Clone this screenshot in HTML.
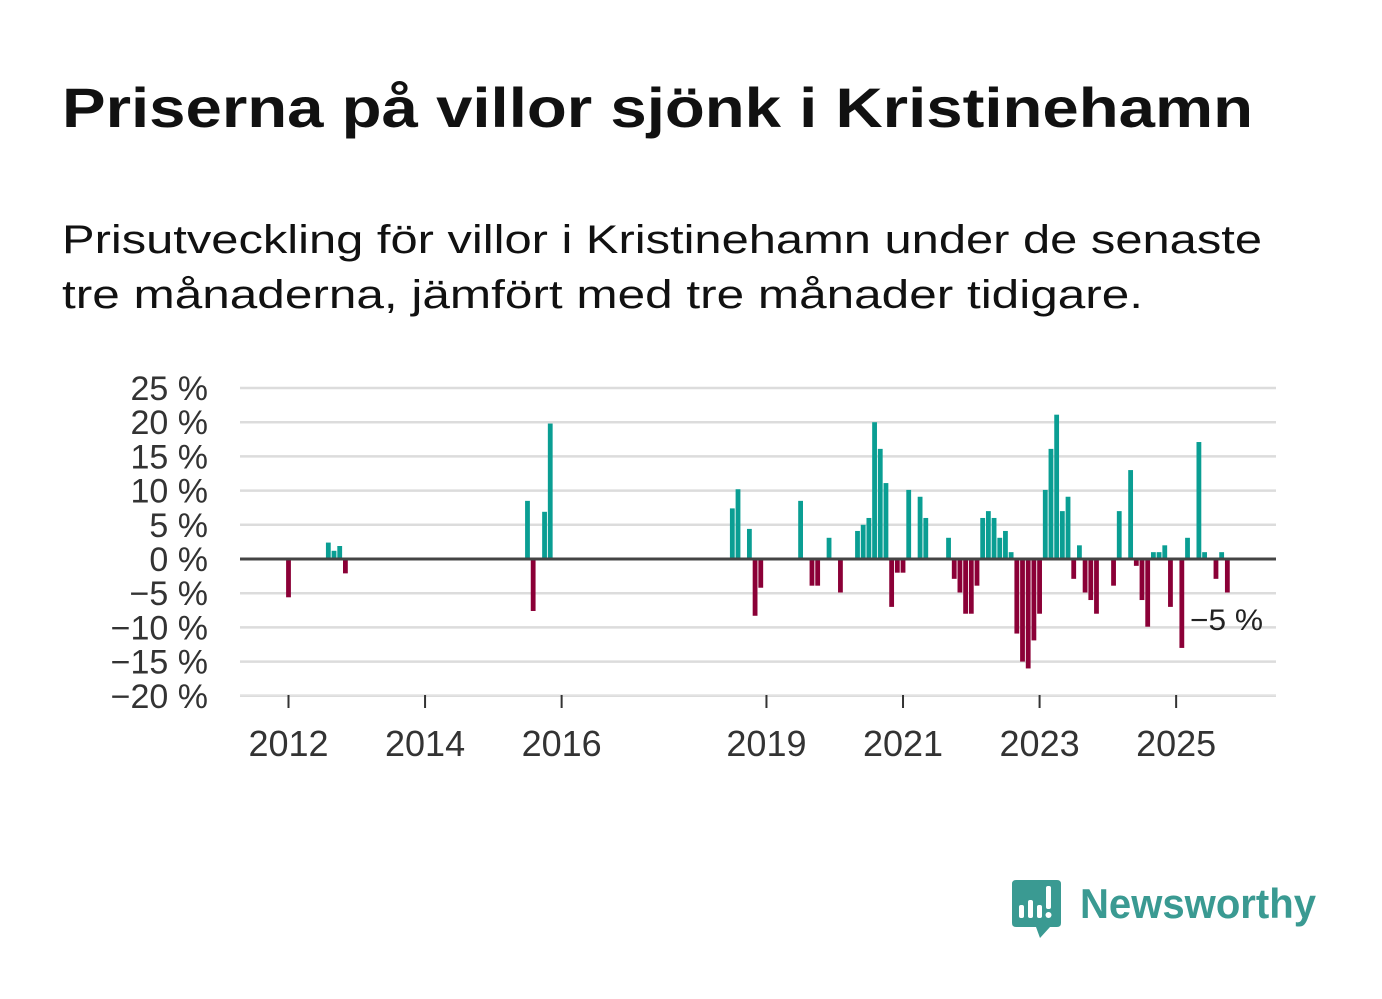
<!DOCTYPE html>
<html><head><meta charset="utf-8"><style>
html,body{margin:0;padding:0;background:#fff;}
svg{display:block;font-family:"Liberation Sans",sans-serif;}
</style></head><body>
<svg id="chart" width="1382" height="999" viewBox="0 0 1382 999">
<text x="62" y="127" font-size="56" font-weight="bold" fill="#111" textLength="1191" lengthAdjust="spacingAndGlyphs">Priserna på villor sjönk i Kristinehamn</text>
<text x="62" y="253" font-size="40" fill="#111" textLength="1200" lengthAdjust="spacingAndGlyphs">Prisutveckling för villor i Kristinehamn under de senaste</text>
<text x="62" y="308" font-size="40" fill="#111" textLength="1081" lengthAdjust="spacingAndGlyphs">tre månaderna, jämfört med tre månader tidigare.</text>
<g id="grid"></g>
<g id="bars"></g>
<g id="axes"></g>
<text x="1190" y="630" font-size="30" fill="#222" textLength="73" lengthAdjust="spacingAndGlyphs">−5 %</text>
<g>
<path d="M1016 880 H1057 Q1061 880 1061 884 V923 Q1061 927 1057 927 H1050 L1040 938 L1036 927 H1016 Q1012 927 1012 923 V884 Q1012 880 1016 880 Z" fill="#3a9a92"/>
<rect x="1019" y="905" width="5" height="13" rx="2" fill="#fff"/>
<rect x="1028" y="900" width="5" height="18" rx="2" fill="#fff"/>
<rect x="1037" y="905" width="5" height="13" rx="2" fill="#fff"/>
<rect x="1046" y="886" width="5" height="23" rx="2" fill="#fff"/>
<circle cx="1048.5" cy="915" r="3" fill="#fff"/>
<text x="1080" y="918" font-size="42" font-weight="bold" fill="#3a9a92" textLength="236" lengthAdjust="spacingAndGlyphs">Newsworthy</text>
</g>
</svg>
<script>
// months since Jan 2012
const months = [0,7,8,9,10,42,43,45,46,78,79,81,82,83,90,92,93,95,97,100,101,102,103,104,105,106,107,108,109,111,112,116,117,118,119,120,121,122,123,124,125,126,127,128,129,130,131,132,133,134,135,136,137,138,139,140,141,142,145,146,148,149,150,151,152,153,154,155,157,158,160,161,163,164,165];
const values = [-5.6,2.4,1.2,1.9,-2.1,8.5,-7.6,6.9,19.8,7.4,10.2,4.4,-8.3,-4.2,8.5,-3.9,-3.9,3.1,-4.9,4.1,5.0,6.0,20.0,16.1,11.1,-7.0,-2.0,-2.0,10.1,9.1,6.0,3.1,-2.9,-4.9,-8.0,-8.0,-3.9,6.0,7.0,6.0,3.1,4.1,1.0,-10.9,-15.0,-16.0,-11.9,-8.0,10.1,16.1,21.1,7.0,9.1,-2.9,2.0,-4.9,-6.0,-8.0,-3.9,7.0,13.0,-1.0,-6.0,-9.9,1.0,1.0,2.0,-7.0,-13.0,3.1,17.1,1.0,-2.9,1.0,-4.9];
const yTicks = [25,20,15,10,5,0,-5,-10,-15,-20];
const yTickLabels = ["25 %","20 %","15 %","10 %","5 %","0 %","−5 %","−10 %","−15 %","−20 %"];
const xTickYears = [2012,2014,2016,2019,2021,2023,2025];

const NS="http://www.w3.org/2000/svg";
function yScale(v){return 559 - v*6.84;}
function xScale(m){return 288.5 + m*5.69;}
function mk(tag,attrs,parent){const e=document.createElementNS(NS,tag);for(const k in attrs)e.setAttribute(k,attrs[k]);parent.appendChild(e);return e;}
const grid=document.getElementById('grid'),bars=document.getElementById('bars'),axes=document.getElementById('axes');
yTicks.forEach((t,i)=>{
  if(t!==0){const l=mk('line',{x1:240,x2:1276,y1:yScale(t),y2:yScale(t),stroke:'#dcdcdc','stroke-width':2.5},grid);
  
  }
  const tx=mk('text',{x:208,y:yScale(t)+12,'font-size':34,fill:'#333','text-anchor':'end'},axes);
  tx.textContent=yTickLabels[i];
  
  
});
const base=mk('line',{x1:240,x2:1276,y1:695,y2:695,stroke:'#e3e3e3','stroke-width':1.5},axes);


months.forEach((m,i)=>{
  const v=values[i];const y0=yScale(0),y1=yScale(v);
  const r=mk('rect',{x:xScale(m)-2.4,y:Math.min(y0,y1),width:4.8,height:Math.abs(y1-y0),fill:v>=0?'#0a9e93':'#8b0037'},bars);
  
  
});
const zl=mk('line',{x1:240,x2:1276,y1:yScale(0),y2:yScale(0),stroke:'#444','stroke-width':3},axes);


xTickYears.forEach(yr=>{
  const x=xScale((yr-2012)*12);
  const tk=mk('line',{x1:x,x2:x,y1:695,y2:708,stroke:'#333','stroke-width':2},axes);
  
  
  const tx=mk('text',{x:x,y:756,'font-size':36,fill:'#333','text-anchor':'middle'},axes);
  tx.textContent=String(yr);
  
  
});
</script>
</body></html>
